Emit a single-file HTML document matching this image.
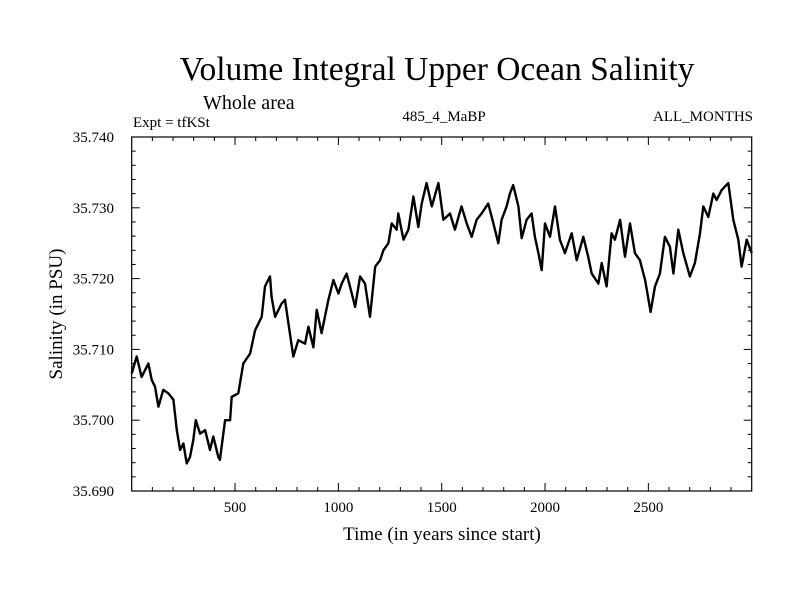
<!DOCTYPE html>
<html><head><meta charset="utf-8">
<style>
body{margin:0;background:#fff}
svg{display:block}
text{font-family:"Liberation Serif",serif;fill:#000}
</style></head>
<body>
<svg id="chart" width="800" height="600">
<text x="437" y="80" font-size="33.5" text-anchor="middle">Volume Integral Upper Ocean Salinity</text>
<text x="203" y="109" font-size="20">Whole area</text>
<text x="133" y="127" font-size="15">Expt = tfKSt</text>
<text x="444" y="121" font-size="15" text-anchor="middle">485_4_MaBP</text>
<text x="753" y="121" font-size="15" text-anchor="end">ALL_MONTHS</text>
<text x="442" y="540" font-size="19" text-anchor="middle">Time (in years since start)</text>
<text transform="translate(62,314) rotate(-90)" font-size="19" text-anchor="middle">Salinity (in PSU)</text>
<g id="axes"></g>
<path id="series" fill="none" stroke="#000" stroke-width="2.4" stroke-linejoin="round"></path>
<rect x="131.7" y="137" width="620" height="354" fill="none" stroke="#000" stroke-width="1.2"></rect>
</svg>
<script>
const years=[0,24,48,81,97,113,129,153,177,202,218,234,250,266,282,298,310,331,355,379,395,419,427,452,476,484,516,540,573,597,629,645,669,677,694,726,742,758,782,806,839,855,879,895,919,952,976,1000,1016,1040,1065,1081,1105,1129,1153,1178,1202,1218,1242,1258,1282,1290,1315,1339,1363,1387,1403,1427,1452,1484,1508,1540,1564,1596,1621,1645,1669,1693,1725,1750,1774,1790,1814,1830,1846,1871,1887,1911,1935,1951,1968,1984,2000,2024,2048,2072,2096,2129,2153,2185,2209,2226,2258,2274,2298,2322,2338,2363,2387,2411,2435,2459,2484,2511,2532,2556,2580,2604,2621,2645,2669,2701,2725,2750,2766,2790,2814,2830,2855,2887,2911,2935,2951,2976,3000];
const salinity=[35.7066,35.7090,35.7061,35.7080,35.7057,35.7047,35.7019,35.7043,35.7038,35.7029,35.6986,35.6958,35.6967,35.6939,35.6948,35.6972,35.7000,35.6981,35.6986,35.6958,35.6977,35.6948,35.6944,35.7000,35.7000,35.7033,35.7038,35.7080,35.7094,35.7127,35.7146,35.7189,35.7203,35.7174,35.7146,35.7165,35.7170,35.7137,35.7090,35.7113,35.7108,35.7132,35.7103,35.7156,35.7123,35.7170,35.7198,35.7179,35.7193,35.7207,35.7179,35.7160,35.7203,35.7193,35.7146,35.7217,35.7226,35.7240,35.7250,35.7278,35.7269,35.7292,35.7255,35.7269,35.7316,35.7273,35.7306,35.7335,35.7302,35.7335,35.7283,35.7292,35.7269,35.7302,35.7278,35.7259,35.7283,35.7292,35.7306,35.7278,35.7250,35.7283,35.7302,35.7320,35.7332,35.7302,35.7257,35.7283,35.7292,35.7259,35.7236,35.7212,35.7278,35.7259,35.7302,35.7255,35.7236,35.7264,35.7226,35.7259,35.7231,35.7207,35.7193,35.7222,35.7189,35.7264,35.7255,35.7283,35.7231,35.7278,35.7236,35.7226,35.7198,35.7153,35.7189,35.7207,35.7259,35.7245,35.7207,35.7269,35.7236,35.7203,35.7222,35.7264,35.7302,35.7287,35.7320,35.7311,35.7325,35.7335,35.7283,35.7255,35.7217,35.7255,35.7236];
const xTicks=[500,1000,1500,2000,2500];
const yTicks=[35.690,35.700,35.710,35.720,35.730,35.740];
const L=131.7,R=751.7,T=137,B=491;
const xs=v=>L+(v-0)/3000*(R-L);
const ys=v=>B-(v-35.690)/0.05*(B-T);
const NS='http://www.w3.org/2000/svg';
const g=document.getElementById('axes');
function line(x1,y1,x2,y2,name){const l=document.createElementNS(NS,'line');l.setAttribute('x1',x1);l.setAttribute('y1',y1);l.setAttribute('x2',x2);l.setAttribute('y2',y2);l.setAttribute('stroke','#000');l.setAttribute('stroke-width','1');


g.appendChild(l);}
function txt(x,y,s,anchor,name){const t=document.createElementNS(NS,'text');t.setAttribute('x',x);t.setAttribute('y',y);t.setAttribute('font-size','15');t.setAttribute('text-anchor',anchor);t.textContent=s;


g.appendChild(t);}
for(let v=100;v<3000;v+=100){const x=xs(v);const major=v%500===0;const len=major?8:4;line(x,B,x,B-len,'x-tick');line(x,T,x,T+len,'x-tick-top');}
for(let i=1;i<25;i++){const v=35.690+i*0.002;const y=ys(v);const major=i%5===0;const len=major?8:4;line(L,y,L+len,y,'y-tick');line(R,y,R-len,y,'y-tick-right');}
xTicks.forEach(v=>txt(xs(v),512,String(v),'middle','x-tick-label'));
yTicks.forEach(v=>txt(114,ys(v)+5,v.toFixed(3),'end','y-tick-label'));
let d='';years.forEach((yr,i)=>{d+=(i?'L':'M')+xs(yr).toFixed(1)+','+ys(salinity[i]).toFixed(1);});
document.getElementById('series').setAttribute('d',d);
</script>
</body></html>
